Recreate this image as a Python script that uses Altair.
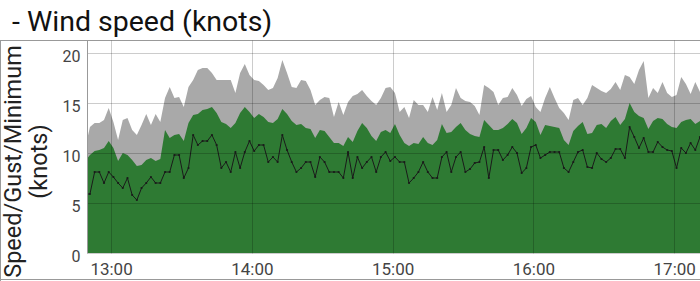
import altair as alt
import pandas as pd

# sampling: every 2 minutes starting 12:49 (minutes of day)
start_minute = 12 * 60 + 49
step_minutes = 2

gust = [10.5, 12.6, 13.0, 13.0, 13.3, 14.5, 13.1, 11.3, 13.3, 13.5, 12.3, 11.8, 12.8, 13.9,
        12.8, 13.9, 13.1, 15.5, 16.6, 15.5, 15.6, 14.6, 16.6, 17.3, 18.3, 18.5, 18.5, 18.0,
        17.3, 17.3, 17.3, 17.3, 16.0, 18.0, 18.9, 17.8, 17.3, 17.2, 16.8, 16.3, 16.5, 17.5,
        19.3, 18.0, 16.6, 16.5, 17.3, 17.2, 16.3, 14.8, 15.3, 15.6, 15.5, 13.6,
        15.1, 13.8, 15.1, 15.7, 15.9, 16.3, 15.7, 15.2, 14.8, 15.5, 16.5, 16.6, 16.0, 14.1,
        14.6, 13.5, 15.3, 14.8, 14.8, 14.1, 15.6, 14.3, 16.0, 14.1, 14.8, 16.5, 15.5,
        15.2, 15.1, 14.7, 13.8, 16.8, 16.5, 16.1, 14.8, 15.5, 15.6, 16.5, 15.8, 14.7, 15.4,
        15.7, 14.6, 14.1, 15.5, 16.6, 15.5, 14.5, 14.0, 13.3, 15.3, 15.5, 14.8,
        15.5, 16.8, 16.5, 16.2, 16.0, 16.4, 17.1, 16.3, 17.8, 17.6, 16.9, 18.3, 19.2, 15.5,
        16.5, 16.0, 17.1, 16.0, 15.6, 15.8, 17.6, 16.9, 15.9, 17.1, 16.1]

speed = [9.2, 9.8, 10.2, 10.3, 10.5, 11.2, 10.5, 9.2, 10.0, 9.8, 9.3, 8.7, 8.8, 9.3,
         9.5, 9.2, 9.4, 12.3, 11.5, 11.8, 11.9, 11.2, 13.0, 13.8, 13.9, 14.3, 14.4, 14.6,
         14.0, 13.1, 12.9, 12.5, 13.0, 14.0, 14.6, 14.1, 13.5, 13.9, 13.6, 13.1, 13.0, 13.4,
         14.4, 13.9, 13.2, 12.8, 12.9, 12.5, 12.4, 11.5, 12.3, 12.2, 11.6, 11.0,
         11.0, 10.7, 11.6, 11.1, 12.2, 13.0, 12.5, 11.7, 11.2, 12.1, 12.3, 12.0, 12.9, 11.8,
         11.0, 10.7, 11.0, 10.9, 11.6, 11.0, 10.8, 11.3, 12.9, 12.0, 12.1, 12.6, 13.0,
         12.3, 11.9, 11.7, 11.6, 13.3, 12.8, 12.3, 12.3, 12.5, 12.9, 13.4, 13.0, 11.9, 12.5,
         13.5, 13.1, 11.8, 12.8, 12.7, 12.6, 12.5, 11.3, 10.8, 12.2, 12.7, 13.1,
         11.9, 12.0, 12.8, 12.9, 12.5, 13.2, 13.6, 12.8, 13.4, 15.0, 14.1, 13.7, 13.5, 12.4,
         13.2, 13.5, 13.4, 12.9, 12.6, 12.5, 13.1, 13.3, 13.4, 12.9, 13.2]

minimum = [5.9, 5.9, 8.1, 8.1, 7.0, 8.1, 7.6, 7.0, 6.5, 7.5, 5.8, 5.3, 6.5, 7.0,
           7.6, 7.0, 7.0, 8.1, 8.1, 9.8, 9.8, 7.5, 8.5, 11.8, 10.8, 11.2, 11.2, 11.8,
           10.8, 8.5, 9.1, 8.1, 10.1, 8.5, 10.1, 11.2, 10.2, 10.8, 10.8, 9.1, 9.6, 9.1,
           11.8, 10.3, 9.1, 8.1, 8.5, 9.1, 9.1, 7.6, 9.6, 9.1, 8.1, 8.1,
           8.1, 7.5, 10.1, 7.5, 9.6, 8.5, 9.1, 9.6, 8.1, 9.6, 10.1, 9.2, 9.6, 9.1,
           9.1, 7.0, 7.5, 8.1, 9.1, 8.1, 7.5, 7.5, 9.6, 10.1, 8.1, 9.6, 10.1,
           8.1, 8.4, 9.0, 9.1, 10.6, 7.5, 10.3, 10.3, 9.3, 9.8, 10.6, 10.0, 8.0, 8.5,
           10.6, 10.8, 9.5, 9.8, 10.1, 10.1, 10.1, 8.5, 8.1, 9.1, 10.1, 10.3,
           8.6, 8.5, 10.0, 9.4, 9.1, 9.5, 10.4, 10.4, 9.5, 12.6, 11.6, 10.5, 11.5, 10.1,
           10.1, 11.1, 10.6, 10.3, 10.2, 8.5, 10.5, 10.0, 11.0, 10.3, 11.6]

hour_ticks = [780, 840, 900, 960, 1020]
y_ticks = [0, 5, 10, 15, 20]
chart_title = "- Wind speed (knots)"

minutes = [start_minute + step_minutes * i for i in range(len(gust))]
df = pd.DataFrame({"minute": minutes, "gust": gust, "speed": speed, "minimum": minimum})

FONT = "Roboto"
GRID = "rgba(0,0,0,0.2)"


def x_enc():
    return alt.X(
        "minute:Q",
        scale=alt.Scale(domain=[769.75, 1031], nice=False, zero=False),
        axis=alt.Axis(
            values=hour_ticks,
            labelExpr="floor(datum.value/60) + ':' + (datum.value % 60 < 10 ? '0' : '') + (datum.value % 60)",
            title=None, grid=True, gridColor=GRID, ticks=False, domain=False,
            labelFont=FONT, labelFontSize=17, labelColor="#444", labelPadding=8,
            labelFlush=False, zindex=1,
        ),
    )


def y_enc(field):
    return alt.Y(
        f"{field}:Q",
        scale=alt.Scale(domain=[0, 21.3], nice=False),
        axis=alt.Axis(
            values=y_ticks,
            title=["Speed/Gust/Minimum", "(knots)"],
            titleX=-86, titleY=121, titleAngle=270, titleAlign="center",
            titleBaseline="top", titleFont=FONT, titleFontSize=23.5,
            titleFontWeight="normal", titleColor="#222", titleLineHeight=26,
            grid=True, gridColor=GRID, ticks=False, domain=True, domainColor="#999",
            labelFont=FONT, labelFontSize=16, labelColor="#444", labelPadding=7,
            labelOffset=3, zindex=1,
        ),
    )


base = alt.Chart(df)

gust_area = base.mark_area(color="#a9a9a9", clip=True, interpolate="linear").encode(
    x=x_enc(), y=y_enc("gust"))
speed_area = base.mark_area(color="#2e7a33", clip=True, interpolate="linear").encode(
    x=x_enc(), y=y_enc("speed"))
min_line = base.mark_line(
    color="#1a1a1a", strokeWidth=1, clip=True,
    point=alt.OverlayMarkDef(size=5, filled=True, color="#1a1a1a"),
).encode(x=x_enc(), y=y_enc("minimum"))

frame_data = alt.Data(values=[{"label": chart_title}])
top_line = alt.Chart(frame_data).mark_rule(color="#999", strokeWidth=1).encode(
    x=alt.value(-87), x2=alt.value(613), y=alt.value(0.5))
left_line = alt.Chart(frame_data).mark_rule(color="#999", strokeWidth=1).encode(
    x=alt.value(-86.5), y=alt.value(0), y2=alt.value(241))
bottom_line = alt.Chart(frame_data).mark_rule(color="#999", strokeWidth=1).encode(
    x=alt.value(-87), x2=alt.value(613), y=alt.value(239.5))
title_text = alt.Chart(frame_data).mark_text(
    align="left", baseline="alphabetic", font=FONT, fontSize=28.5, color="#111",
).encode(text="label:N", x=alt.value(-75), y=alt.value(-9))

chart = alt.layer(
    gust_area, speed_area, min_line, top_line, left_line, bottom_line, title_text
).properties(
    width=613,
    height=213,
    autosize=alt.AutoSizeParams(type="none"),
    padding={"left": 87, "top": 40, "right": 0, "bottom": 28},
    background="white",
).configure_view(stroke=None)

chart.save("out.html", embed_options={"renderer": "svg", "actions": False})
